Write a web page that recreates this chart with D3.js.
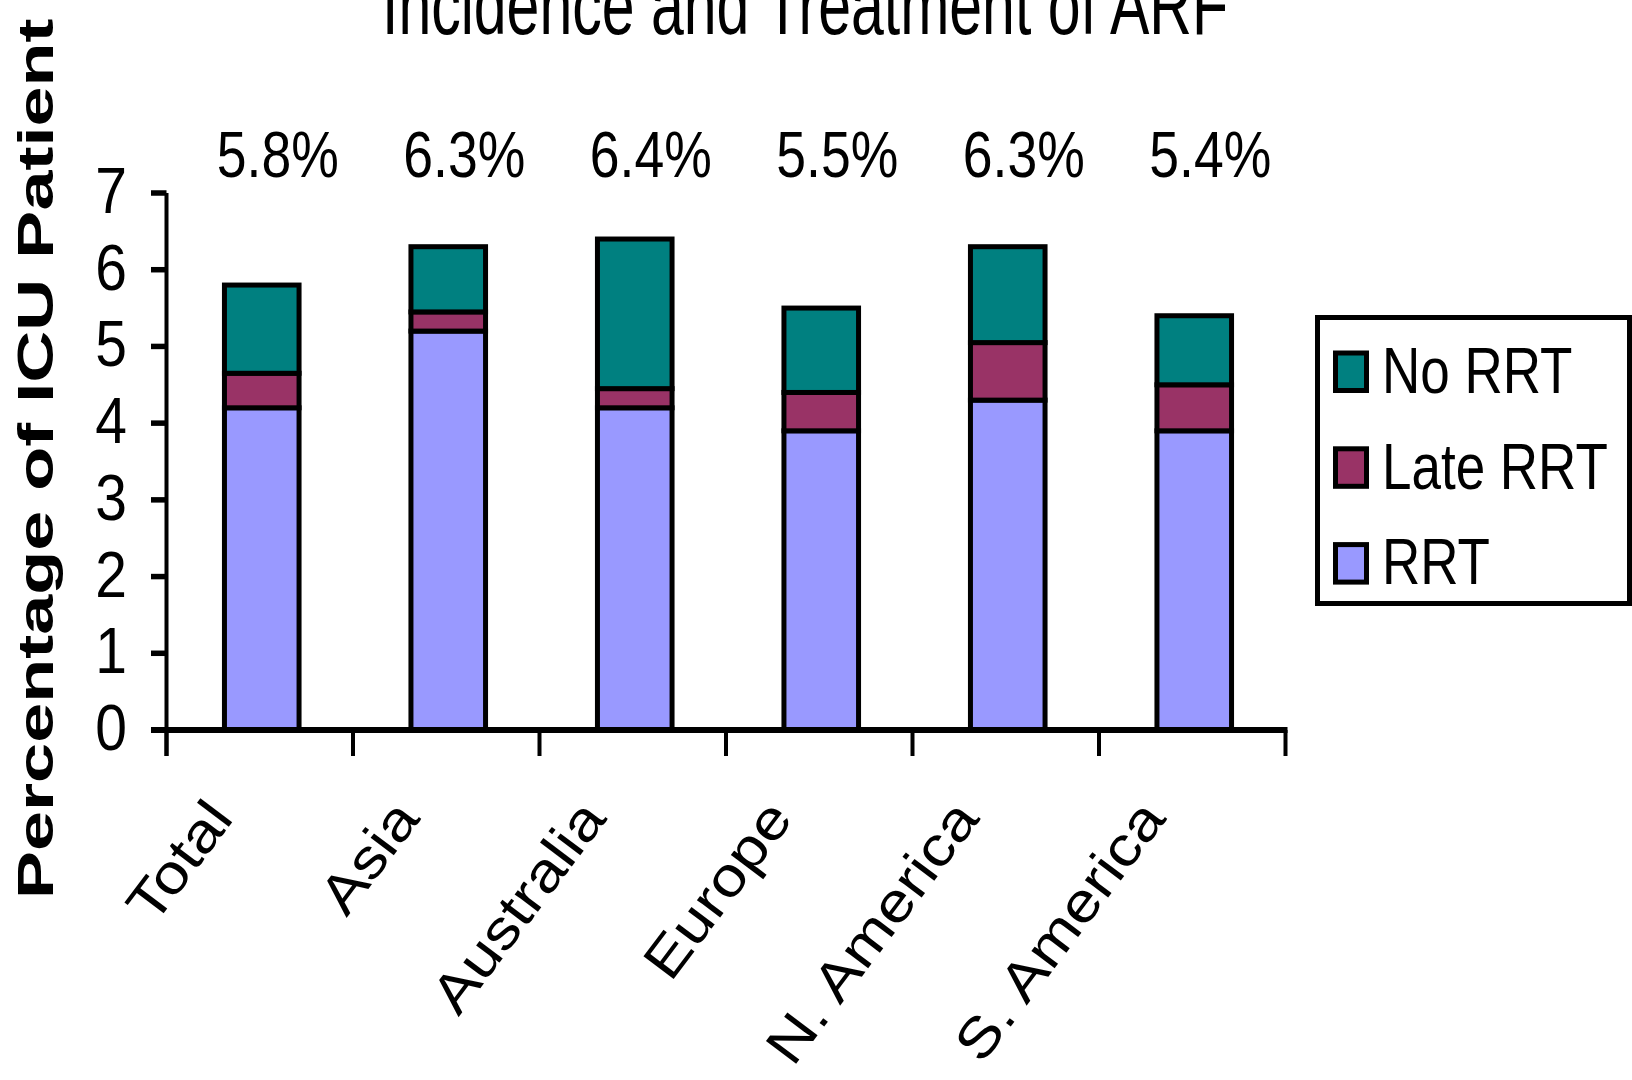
<!DOCTYPE html>
<html>
<head>
<meta charset="utf-8">
<script src="https://cdn.jsdelivr.net/npm/d3@7"></script>
<style>
  html, body { margin: 0; padding: 0; background: #fff; }
  svg { display: block; }
  text { font-family: "Liberation Sans", Arial, sans-serif; fill: #000; }
</style>
</head>
<body>
<script>
// ---- data ----
const categories = ["Total", "Asia", "Australia", "Europe", "N. America", "S. America"];
const rrt      = [4.2, 5.2, 4.2, 3.9, 4.3, 3.9];
const lateRrt  = [0.45, 0.25, 0.25, 0.5, 0.75, 0.6];
const noRrt    = [1.15, 0.85, 1.95, 1.1, 1.25, 0.9];
const incidenceLabels = ["5.8%", "6.3%", "6.4%", "5.5%", "6.3%", "5.4%"];
const yTickValues = [0, 1, 2, 3, 4, 5, 6, 7];
const seriesNames = ["RRT", "Late RRT", "No RRT"];
const legendOrder = ["No RRT", "Late RRT", "RRT"];
const colors = { "RRT": "#9999FF", "Late RRT": "#993366", "No RRT": "#008080" };
const titleText = "Incidence and Treatment of ARF";
const yTitleText = "Percentage of ICU Patient";

// ---- layout ----
const W = 1632, H = 1080;
const svg = d3.select("body").append("svg").attr("width", W).attr("height", H);

const rows = categories.map((c, i) => ({ cat: c, "RRT": rrt[i], "Late RRT": lateRrt[i], "No RRT": noRrt[i] }));

const x = d3.scaleBand().domain(categories).range([166.5, 1285.5]).paddingInner(0.6).paddingOuter(0.3);
const y = d3.scaleLinear().domain([0, 7]).range([730, 193]);
const step = x.step();
const bandStart = c => x(c) - x.paddingInner() * step / 2;
const barShift = 2;

// title
svg.append("text")
  .attr("text-anchor", "middle")
  .attr("transform", `translate(805,34) scale(1,1.4)`)
  .attr("font-size", 59)
  .text(titleText);

// y-axis title
svg.append("text")
  .attr("text-anchor", "start")
  .attr("font-weight", "bold")
  .attr("font-size", 49)
  .attr("transform", `translate(53,899) rotate(-90) scale(1.47,1)`)
  .text(yTitleText);

// stacked bars
const stack = d3.stack().keys(seriesNames)(rows);
const gBars = svg.append("g").attr("transform", `translate(${barShift},0)`);
stack.forEach(layer => {
  gBars.selectAll(null).data(layer).enter().append("rect")
    .attr("x", d => x(d.data.cat))
    .attr("width", x.bandwidth())
    .attr("y", d => y(d[1]))
    .attr("height", d => y(d[0]) - y(d[1]))
    .attr("fill", colors[layer.key])
    .attr("stroke", "#000")
    .attr("stroke-width", 5);
});

// y axis
svg.append("line")
  .attr("x1", 166.5).attr("x2", 166.5)
  .attr("y1", y(7)).attr("y2", y(0) + 26)
  .attr("stroke", "#000").attr("stroke-width", 4);
svg.selectAll(".ytick").data(yTickValues).enter().append("line")
  .attr("x1", 151).attr("x2", 166.5)
  .attr("y1", d => y(d)).attr("y2", d => y(d))
  .attr("stroke", "#000").attr("stroke-width", 5.5);
svg.selectAll(".ylab").data(yTickValues).enter().append("text")
  .attr("text-anchor", "end")
  .attr("font-size", 57)
  .attr("transform", d => `translate(127,${y(d) + 20}) scale(1,1.14)`)
  .text(d => d);

// x axis
svg.append("line")
  .attr("x1", 151).attr("x2", x.range()[1] + 2)
  .attr("y1", y(0)).attr("y2", y(0))
  .attr("stroke", "#000").attr("stroke-width", 6);
const xTickPos = categories.map(bandStart).concat([x.range()[1]]);
svg.selectAll(".xtick").data(xTickPos).enter().append("line")
  .attr("x1", d => d).attr("x2", d => d)
  .attr("y1", y(0)).attr("y2", y(0) + 26)
  .attr("stroke", "#000").attr("stroke-width", 4);

// category labels
svg.selectAll(".xlab").data(categories).enter().append("text")
  .attr("text-anchor", "end")
  .attr("font-size", 55)
  .attr("transform", d => `translate(${x(d) + x.bandwidth() / 2 - 25},819) rotate(-53) scale(1.16,1)`)
  .text(d => d);

// incidence labels
svg.selectAll(".pct").data(categories).enter().append("text")
  .attr("text-anchor", "middle")
  .attr("font-size", 53.5)
  .attr("transform", (d, i) => `translate(${x(d) + x.bandwidth() / 2 + 18},177) scale(1,1.21)`)
  .text((d, i) => incidenceLabels[i]);

// legend
const lg = svg.append("g");
lg.append("rect")
  .attr("x", 1317.5).attr("y", 317.5).attr("width", 312).attr("height", 286)
  .attr("fill", "#fff").attr("stroke", "#000").attr("stroke-width", 5);
const legendItems = lg.selectAll(".li").data(legendOrder).enter().append("g")
  .attr("transform", (d, i) => `translate(0,${i * 95.8})`);
legendItems.append("rect")
  .attr("x", 1335.5).attr("y", 353).attr("width", 31).attr("height", 37.5)
  .attr("fill", d => colors[d]).attr("stroke", "#000").attr("stroke-width", 5);
legendItems.append("text")
  .attr("font-size", 53)
  .attr("transform", `translate(1382,392.7) scale(1,1.23)`)
  .text(d => d);
</script>
</body>
</html>
